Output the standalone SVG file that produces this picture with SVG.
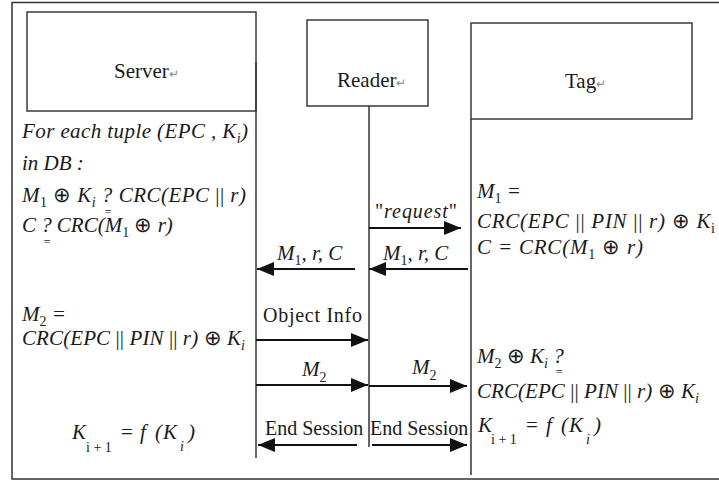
<svg xmlns="http://www.w3.org/2000/svg" width="719" height="481" viewBox="0 0 719 481">
  <style>
    .frame { fill: none; stroke: #333; stroke-width: 1.5; }
    .box { fill: #fff; stroke: #3a3a3a; stroke-width: 1.5; }
    .life { stroke: #333; stroke-width: 1.5; fill: none; }
    .msg { stroke: #111; stroke-width: 2; fill: none; marker-end: url(#ah); }
    text { font-family: "Liberation Serif", "Times New Roman", serif; fill: #1a1a1a; }
    .hd { font-size: 21px; }
    .pm { font-size: 12px; fill: #888; }
    .m { font-size: 21px; font-style: italic; }
    .lb { font-size: 20px; }
    .up { font-style: normal; }
    .s { font-size: 14px; font-style: normal; }
    .si { font-size: 14px; font-style: italic; }
    .eq { font-size: 12px; font-style: normal; }
  </style>
  <defs>
    <marker id="ah" markerWidth="17" markerHeight="14" refX="17" refY="7" orient="auto" markerUnits="userSpaceOnUse">
      <path d="M0,0 L17,7 L0,14 Z" fill="#111"/>
    </marker>
  </defs>

  <rect width="719" height="481" fill="#fff"/>
  <!-- outer frame, open on the right -->
  <path class="frame" d="M722,2.5 H12 V479 H722"/>

  <g id="server">
    <rect class="box" x="27" y="12" width="229" height="99"/>
    <text class="hd" x="114" y="78">Server<tspan class="pm">↵</tspan></text>
    <line class="life" x1="256" y1="62" x2="256" y2="458"/>
  </g>

  <g id="reader">
    <rect class="box" x="307" y="20" width="121" height="86"/>
    <text class="hd" x="337" y="87">Reader<tspan class="pm">↵</tspan></text>
    <line class="life" x1="369" y1="106" x2="369" y2="447"/>
  </g>

  <g id="tag">
    <rect class="box" x="471" y="23" width="221" height="96"/>
    <text class="hd" x="565" y="88">Tag<tspan class="pm">↵</tspan></text>
    <line class="life" x1="471" y1="119" x2="471" y2="475"/>
  </g>

  <!-- server-side lookup -->
  <g id="server-check">
    <text class="m" x="22" y="138" textLength="226">For each tuple (EPC , K<tspan class="si" dy="5">i</tspan><tspan dy="-5">)</tspan></text>
    <text class="m" x="22" y="170">in DB :</text>
    <text class="m" x="22" y="202" textLength="224">M<tspan class="s" dy="5">1</tspan><tspan class="up" dy="-5"> ⊕ </tspan>K<tspan class="si" dy="5">i</tspan><tspan dy="-5"> ?</tspan><tspan class="eq" dx="-8" dy="14">=</tspan><tspan dx="1" dy="-14"> CRC(EPC </tspan><tspan class="up">||</tspan> r)</text>
    <text class="m" x="22" y="232">C ?<tspan class="eq" dx="-8" dy="14">=</tspan><tspan dx="1" dy="-14"> CRC(M</tspan><tspan class="s" dy="5">1</tspan><tspan class="up" dy="-5"> ⊕ </tspan>r)</text>
  </g>

  <g id="server-update">
    <text class="m" x="22" y="321">M<tspan class="s" dy="5">2</tspan><tspan dy="-5"> =</tspan></text>
    <text class="m" x="22" y="345" textLength="223">CRC(EPC <tspan class="up">||</tspan> PIN <tspan class="up">||</tspan> r)<tspan class="up"> ⊕ </tspan>K<tspan class="si" dy="5">i</tspan></text>
    <text class="m" y="439"><tspan x="72">K</tspan><tspan class="s" x="86" y="452">i + 1</tspan><tspan class="up" x="121" y="439">=</tspan><tspan x="140">f</tspan><tspan x="155">(</tspan><tspan x="163">K</tspan><tspan class="si" x="180" y="451">i</tspan><tspan x="188" y="439">)</tspan></text>
  </g>

  <!-- tag-side response -->
  <g id="tag-response">
    <text class="m" x="477" y="198">M<tspan class="s" dy="5">1</tspan><tspan dy="-5"> =</tspan></text>
    <text class="m" x="477" y="228" textLength="238">CRC(EPC <tspan class="up">||</tspan> PIN <tspan class="up">||</tspan> r)<tspan class="up"> ⊕ </tspan>K<tspan class="s" dy="5">i</tspan></text>
    <text class="m" x="477" y="254" textLength="166">C = CRC(M<tspan class="s" dy="5">1</tspan><tspan class="up" dy="-5"> ⊕ </tspan>r)</text>
  </g>

  <g id="tag-verify">
    <text class="m" x="477" y="363">M<tspan class="s" dy="5">2</tspan><tspan class="up" dy="-5"> ⊕ </tspan>K<tspan class="si" dy="5">i</tspan><tspan dy="-5"> ?</tspan><tspan class="eq" dx="-8" dy="13">=</tspan></text>
    <text class="m" x="477" y="398" textLength="222">CRC(EPC <tspan class="up">||</tspan> PIN <tspan class="up">||</tspan> r)<tspan class="up"> ⊕ </tspan>K<tspan class="si" dy="5">i</tspan></text>
    <text class="m" y="432"><tspan x="478">K</tspan><tspan class="s" x="491" y="444">i + 1</tspan><tspan class="up" x="526" y="432">=</tspan><tspan x="546">f</tspan><tspan x="561">(</tspan><tspan x="569">K</tspan><tspan class="si" x="586" y="444">i</tspan><tspan x="594" y="432">)</tspan></text>
  </g>

  <!-- messages -->
  <g id="connectors">
    <line class="msg" x1="369" y1="228" x2="461" y2="228"/>
    <line class="msg" x1="468" y1="269" x2="369" y2="269"/>
    <line class="msg" x1="355" y1="269" x2="257" y2="269"/>
    <line class="msg" x1="256" y1="340" x2="368" y2="340"/>
    <line class="msg" x1="256" y1="385" x2="368" y2="385"/>
    <line class="msg" x1="369" y1="386" x2="467" y2="386"/>
    <line class="msg" x1="357" y1="445" x2="258" y2="445"/>
    <line class="msg" x1="372" y1="445" x2="467" y2="445"/>

    <text class="lb" x="375" y="218" textLength="82">"<tspan font-style="italic">request</tspan>"</text>
    <text class="m" x="277" y="260">M<tspan class="s" dy="5">1</tspan><tspan dy="-5">, r, C</tspan></text>
    <text class="m" x="383" y="260">M<tspan class="s" dy="5">1</tspan><tspan dy="-5">, r, C</tspan></text>
    <text class="lb" x="263" y="322" textLength="99">Object  Info</text>
    <text class="m" x="302" y="376">M<tspan class="s" dy="6">2</tspan></text>
    <text class="m" x="412" y="374">M<tspan class="s" dy="6">2</tspan></text>
    <text class="lb" x="265" y="435">End Session</text>
    <text class="lb" x="370" y="435">End Session</text>
  </g>
</svg>
